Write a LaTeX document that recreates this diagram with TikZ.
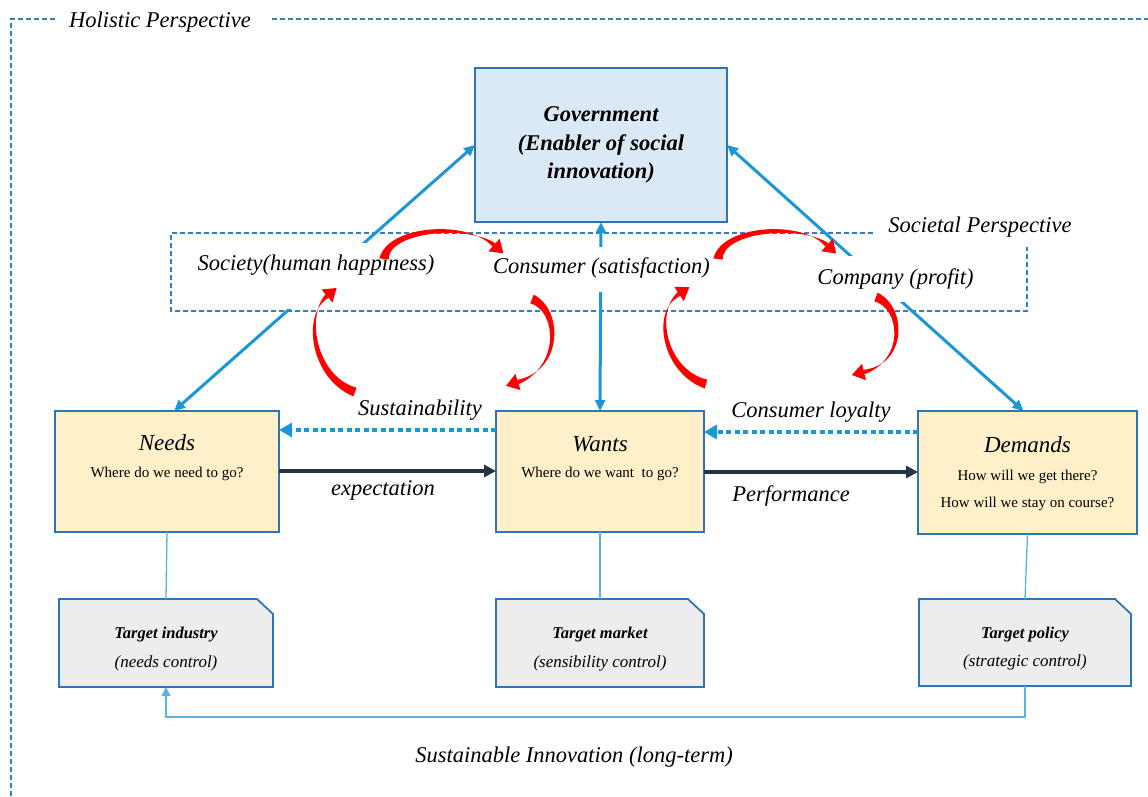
\documentclass[tikz,border=0pt]{standalone}
\usepackage{fontspec}
\setmainfont{Liberation Serif}
\usetikzlibrary{arrows.meta,calc}

\definecolor{frameblue}{HTML}{2E75B6}
\definecolor{dashblue}{HTML}{2F7FC1}
\definecolor{arrowblue}{HTML}{1B96D6}
\definecolor{thinblue}{HTML}{5DB0E4}
\definecolor{navyline}{HTML}{243447}
\definecolor{govfill}{HTML}{DBE8F5}
\definecolor{needfill}{HTML}{FFF0C9}
\definecolor{tgtfill}{HTML}{EDEDED}
\definecolor{swoopred}{HTML}{FF0000}

% tapered red curved arrow: #1 start, #2 and #3 controls, #4 base of the head
\newcommand\redswoop[4]{%
  \fill[swoopred] ($(#1)!4.6pt!90:(#2)$) .. controls ($(#2)!4pt!90:(#3)$) and ($(#3)!3.2pt!90:(#4)$) .. ($(#4)!2.3pt!90:(#3)$)
    -- ($(#4)!2.3pt!-90:(#3)$) .. controls ($(#3)!3.2pt!-90:(#4)$) and ($(#2)!4pt!-90:(#3)$) .. ($(#1)!4.6pt!-90:(#2)$) -- cycle;
  \fill[swoopred] ($(#4)!-12.5pt!(#3)$) -- ($(#4)!8.5pt!90:(#3)$) -- ($(#4)!8.5pt!-90:(#3)$) -- cycle;
}

\tikzset{
  lbl/.style={font=\fontsize{22.5}{27}\selectfont\itshape, inner sep=0pt},
  masklbl/.style={lbl, fill=white, inner xsep=3pt, inner ysep=0pt},
  title/.style={font=\fontsize{23}{27}\selectfont\itshape, inner sep=0pt},
  qtext/.style={font=\fontsize{15}{18}\selectfont, inner sep=0pt},
  tgttitle/.style={font=\fontsize{16.5}{18}\selectfont\bfseries\itshape, inner sep=0pt},
  tgtsub/.style={font=\fontsize{17}{18}\selectfont\itshape, inner sep=0pt},
  govbox/.style={draw=frameblue, line width=1.7pt, fill=govfill, minimum width=252pt, minimum height=154pt,
    inner sep=0pt, outer sep=0pt, align=center, font=\fontsize{22.5}{28.5}\selectfont\bfseries\itshape},
  needbox/.style={draw=frameblue, line width=1.7pt, fill=needfill, inner sep=0pt, outer sep=0pt},
  tgtbox/.style={inner sep=0pt, outer sep=0pt},
  tgtshape/.style={draw=frameblue, line width=1.8pt, fill=tgtfill, line join=miter},
  dashframe/.style={draw=dashblue, line width=1.4pt, dash pattern=on 5pt off 3pt},
  bluelink/.style={draw=arrowblue, line width=3pt, >={Triangle[length=11pt,width=10pt]}, <->},
  dotlink/.style={draw=arrowblue, line width=4.5pt, dash pattern=on 5pt off 3.5pt, -{Triangle[length=13pt,width=14pt]}},
  navylink/.style={draw=navyline, line width=3.5pt, -{Triangle[length=12pt,width=12pt]}},
  thinlink/.style={draw=thinblue, line width=1.3pt},
}

\begin{document}
\begin{tikzpicture}[x=1pt,y=-1pt]
\useasboundingbox (0,0) rectangle (1148,796);

% holistic frame
\node[lbl] (holi) at (160,22) {Holistic Perspective};
\draw[dashframe] (55,19) -- (11,19) -- (11,796);
\draw[dashframe] (272,19) -- (1148,19);

% societal frame
\node[lbl] (socpersp) at (980,227) {Societal Perspective};
\draw[dashframe] (873,233) -- (171,233) -- (171,311) -- (1027,311) -- (1027,247);

% government
\node[govbox] (gov) at (601,145) {Government\\(Enabler of social\\innovation)};

% needs / wants / demands
\node[needbox, minimum width=224pt, minimum height=121pt] (needs) at (167,471.5) {};
\node[needbox, minimum width=208pt, minimum height=121pt] (wants) at (600,471.5) {};
\node[needbox, minimum width=219pt, minimum height=123pt] (demands) at (1027.5,472.5) {};

\node[title] (needsT) at (167,443) {Needs};
\node[qtext] (needsQ) at (167,474) {Where do we need to go?};
\node[title] (wantsT) at (600,444) {Wants};
\node[qtext] (wantsQ) at (600,474) {Where do we want\ \ to go?};
\node[title] (demT) at (1027.5,445) {Demands};
\node[qtext] (demQ1) at (1027.5,477) {How will we get there?};
\node[qtext] (demQ2) at (1027.5,504) {How will we stay on course?};

% target boxes with a clipped corner
\path node[tgtbox, minimum width=214pt, minimum height=88pt] (tind) at (166,643) {}
      node[tgtbox, minimum width=208pt, minimum height=88pt] (tmkt) at (600,643) {}
      node[tgtbox, minimum width=212pt, minimum height=87pt] (tpol) at (1025,642.5) {};
\foreach \t in {tind,tmkt,tpol}{
  \filldraw[tgtshape] (\t.south west) -- (\t.north west) -- ([xshift=-16pt]\t.north east)
    -- ([yshift=-15pt]\t.north east) -- (\t.south east) -- cycle;
}
\node[tgttitle] (tindA) at (166,635) {Target industry};
\node[tgtsub] (tindB) at (166,663) {(needs control)};
\node[tgttitle] (tmktA) at (600,635) {Target market};
\node[tgtsub] (tmktB) at (600,663) {(sensibility control)};
\node[tgttitle] (tpolA) at (1025,635) {Target policy};
\node[tgtsub] (tpolB) at (1025,662) {(strategic control)};

% thin links to the target boxes and the long-term loop
\draw[thinlink] (needs.south) -- (tind.north);
\draw[thinlink] (wants.south) -- (tmkt.north);
\draw[thinlink] (demands.south) -- (tpol.north);
\draw[thinlink, -{Triangle[length=9pt,width=9pt]}] (tpol.south) -- ++(0,31) -| (tind.south);
\node[lbl] (longterm) at (574,757) {Sustainable Innovation (long-term)};

% blue links through the societal layer
\draw[bluelink] ([xshift=7pt]needs.north) -- (gov.west);
\draw[bluelink] ([xshift=-4pt]demands.north) -- (gov.east);
\draw[bluelink] (gov.south) -- (wants.north);

% societal labels (white ground breaks the links behind them)
\node[masklbl, text height=27pt, text depth=39pt] (society) at (316,276) {Society(human happiness)};
\node[masklbl, text height=26.3pt, text depth=18.7pt] (consumer) at (601.5,269.5) {Consumer (satisfaction)};
\node[masklbl, text height=28.3pt, text depth=17.7pt] (company) at (895.5,279) {Company (profit)};

% horizontal links between the boxes
\coordinate (yDotA) at (0,430);
\coordinate (yDotB) at (0,432);
\coordinate (yArrA) at (0,471);
\coordinate (yArrB) at (0,472);
\draw[dotlink] (wants.west |- yDotA) -- (needs.east |- yDotA);
\draw[dotlink] (demands.west |- yDotB) -- (wants.east |- yDotB);
\draw[navylink] (needs.east |- yArrA) -- (wants.west |- yArrA);
\draw[navylink] (wants.east |- yArrB) -- (demands.west |- yArrB);

\node[lbl] (sustain) at (420,410) {Sustainability};
\node[lbl] (expect) at (383,490) {expectation};
\node[lbl] (loyal) at (811,412) {Consumer loyalty};
\node[lbl] (perf) at (791,496) {Performance};

% red cycles
\coordinate (r1s) at (384,259); \coordinate (r1a) at (388,228); \coordinate (r1b) at (468,222); \coordinate (r1e) at (494,245);
\coordinate (r2s) at (532,299); \coordinate (r2a) at (560,310); \coordinate (r2b) at (562,368); \coordinate (r2e) at (518,382);
\coordinate (r3s) at (355,392); \coordinate (r3a) at (314,378); \coordinate (r3b) at (303,316); \coordinate (r3e) at (327,296);
\coordinate (r4s) at (718,259); \coordinate (r4a) at (722,228); \coordinate (r4b) at (802,222); \coordinate (r4e) at (827,245);
\coordinate (r5s) at (876,297); \coordinate (r5a) at (904,308); \coordinate (r5b) at (906,362); \coordinate (r5e) at (864,372);
\coordinate (r6s) at (706,384); \coordinate (r6a) at (665,372); \coordinate (r6b) at (652,312); \coordinate (r6e) at (679,294);
\redswoop{r1s}{r1a}{r1b}{r1e}
\redswoop{r2s}{r2a}{r2b}{r2e}
\redswoop{r3s}{r3a}{r3b}{r3e}
\redswoop{r4s}{r4a}{r4b}{r4e}
\redswoop{r5s}{r5a}{r5b}{r5e}
\redswoop{r6s}{r6a}{r6b}{r6e}
\end{tikzpicture}
\end{document}
